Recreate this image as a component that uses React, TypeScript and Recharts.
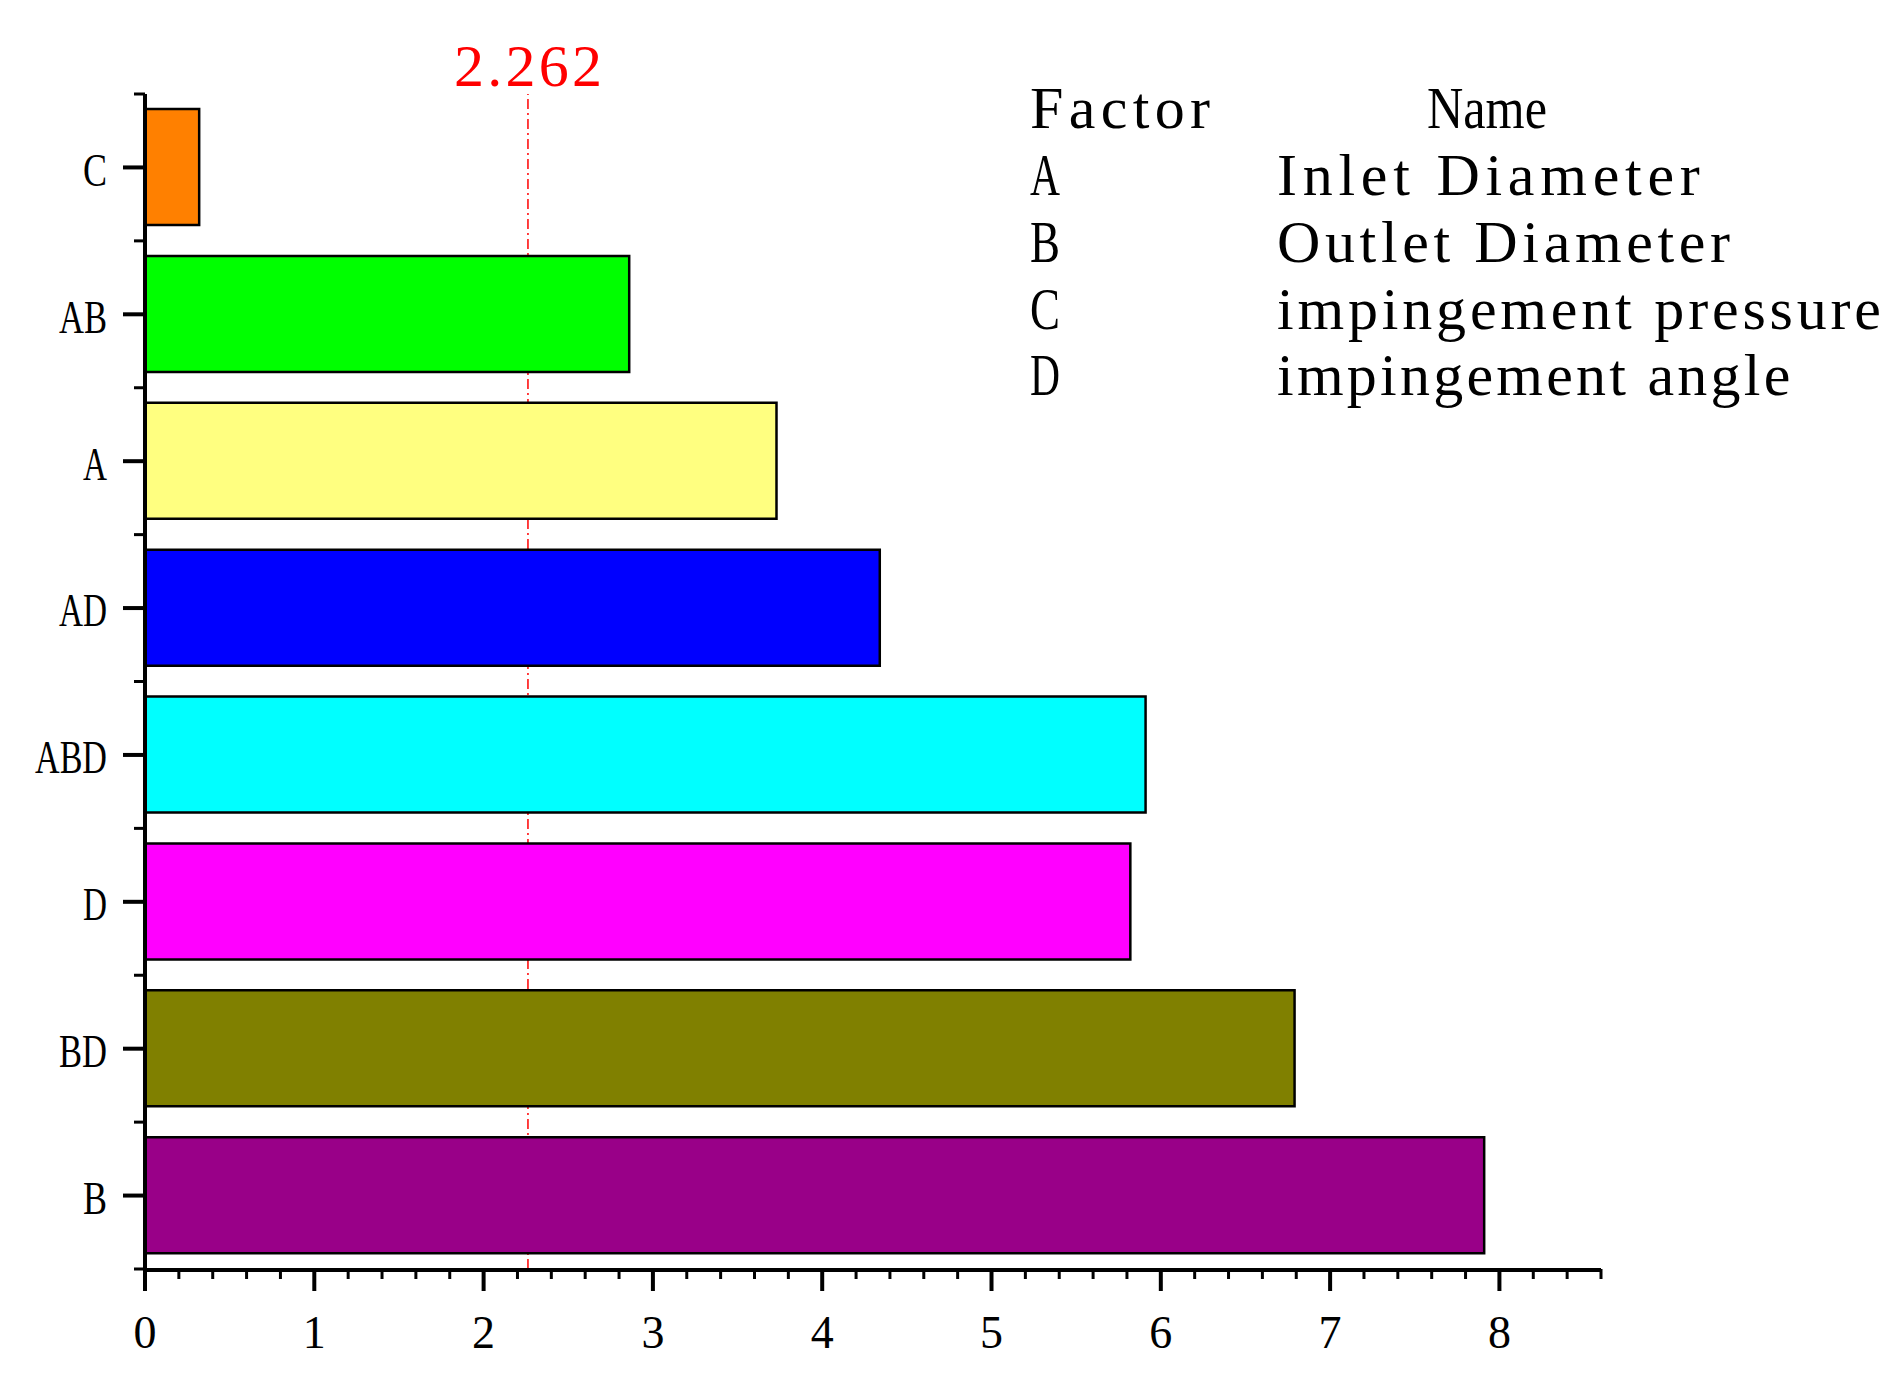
import { BarChart, Bar, XAxis, YAxis, ReferenceLine, Cell } from 'recharts';

// factor effects (|t| values), top to bottom
const factors = ['C', 'AB', 'A', 'AD', 'ABD', 'D', 'BD', 'B'];
const effects = [0.32, 2.86, 3.73, 4.34, 5.91, 5.82, 6.79, 7.91];
const barColors = ['#FF8000', '#00FF00', '#FFFF80', '#0000FF', '#00FFFF', '#FF00FF', '#808000', '#990088'];

const xTicks = [0, 1, 2, 3, 4, 5, 6, 7, 8];
const xMinorTicks = [
  0.2, 0.4, 0.6, 0.8, 1.2, 1.4, 1.6, 1.8, 2.2, 2.4, 2.6, 2.8, 3.2, 3.4, 3.6, 3.8,
  4.2, 4.4, 4.6, 4.8, 5.2, 5.4, 5.6, 5.8, 6.2, 6.4, 6.6, 6.8, 7.2, 7.4, 7.6, 7.8,
  8.2, 8.4, 8.6,
];
const criticalT = 2.262;

const legendHeader = ['Factor', 'Name'];
const legendFactors = ['A', 'B', 'C', 'D'];
const legendNames = ['Inlet Diameter', 'Outlet Diameter', 'impingement pressure', 'impingement angle'];

const data = factors.map((f, i) => ({ factor: f, value: effects[i] }));

const FONT = "'Liberation Serif', 'Times New Roman', serif";

// narrow half-width look of the original font
const NarrowText = ({ x, y, text, size, adv, fill = '#000', anchor = 'start', dy, adjust = 'spacingAndGlyphs' }: any) => (
  <text
    x={x}
    y={y}
    dy={dy}
    fontSize={size}
    fontFamily={FONT}
    fill={fill}
    textAnchor={anchor}
    textLength={text.length * adv}
    lengthAdjust={adjust}
  >
    {text}
  </text>
);

// category tick: major tick at band centre, minor ticks at band edges
const YTick = (props: any) => {
  const { x, y, payload, index, visibleTicksCount } = props;
  const half = payload?.offset ?? 0;
  const last = index === visibleTicksCount - 1;
  return (
    <g>
      <line x1={x} x2={x - 22} y1={y} y2={y} stroke="#000" strokeWidth={4} />
      {half > 0 && <line x1={x} x2={x - 11} y1={y - half} y2={y - half} stroke="#000" strokeWidth={3} />}
      {half > 0 && last && <line x1={x} x2={x - 11} y1={y + half} y2={y + half} stroke="#000" strokeWidth={3} />}
      <NarrowText x={x - 38} y={y} dy="0.4em" text={String(payload.value)} size={46} adv={24} anchor="end" />
    </g>
  );
};

const CritLabel = (props: any) => {
  const vb = props.viewBox || {};
  return (
    <NarrowText x={vb.x} y={vb.y - 8} text={String(criticalT)} size={60} adv={29.6}
      fill="#FF0000" anchor="middle" adjust="spacing" />
  );
};

export default function App() {
  return (
    <div style={{ position: 'relative', width: 1896, height: 1375, background: '#fff' }}>
      <style>{'body{margin:0}'}</style>
      <BarChart
        width={1896}
        height={1375}
        data={data}
        layout="vertical"
        margin={{ top: 94, right: 295, bottom: 0, left: 0 }}
        barSize={116}
      >
        <XAxis
          xAxisId="b"
          type="number"
          domain={[0, 8.6]}
          ticks={xTicks}
          allowDataOverflow
          height={105}
          axisLine={{ stroke: '#000', strokeWidth: 4 }}
          tickLine={{ stroke: '#000', strokeWidth: 4 }}
          tickSize={21}
          tickMargin={24}
          tick={{ fontSize: 46, fill: '#000', fontFamily: FONT }}
        />
        <XAxis
          xAxisId="a"
          type="number"
          domain={[0, 8.6]}
          ticks={xMinorTicks}
          allowDataOverflow
          height={1}
          axisLine={false}
          tickLine={{ stroke: '#000', strokeWidth: 3 }}
          tickSize={10}
          tickFormatter={() => ''}
        />
        <YAxis
          yAxisId="b"
          type="category"
          dataKey="factor"
          width={145}
          axisLine={{ stroke: '#000', strokeWidth: 4 }}
          tickLine={false}
          tickSize={0}
          tickMargin={0}
          tick={<YTick />}
        />
        <ReferenceLine
          xAxisId="b"
          yAxisId="b"
          x={criticalT}
          stroke="#FF0000"
          strokeWidth={1.5}
          strokeDasharray="10 4 2 4"
          label={<CritLabel />}
          zIndex={250}
        />
        <Bar
          xAxisId="b"
          yAxisId="b"
          dataKey="value"
          stroke="#000"
          strokeWidth={2.5}
          isAnimationActive={false}
        >
          {data.map((d, i) => (
            <Cell key={d.factor} fill={barColors[i]} />
          ))}
        </Bar>
      </BarChart>
      <svg
        width={1896}
        height={1375}
        style={{ position: 'absolute', left: 0, top: 0, pointerEvents: 'none' }}
      >
        <NarrowText x={1030} y={128} text={legendHeader[0]} size={60} adv={30} adjust="spacing" />
        <NarrowText x={1427} y={128} text={legendHeader[1]} size={60} adv={30} />
        {legendFactors.map((f, i) => (
          <g key={f}>
            <NarrowText x={1030} y={195 + i * 66.8} text={f} size={60} adv={30} />
            <NarrowText x={1277} y={195 + i * 66.8} text={legendNames[i]} size={60} adv={30.2} adjust="spacing" />
          </g>
        ))}
      </svg>
    </div>
  );
}
